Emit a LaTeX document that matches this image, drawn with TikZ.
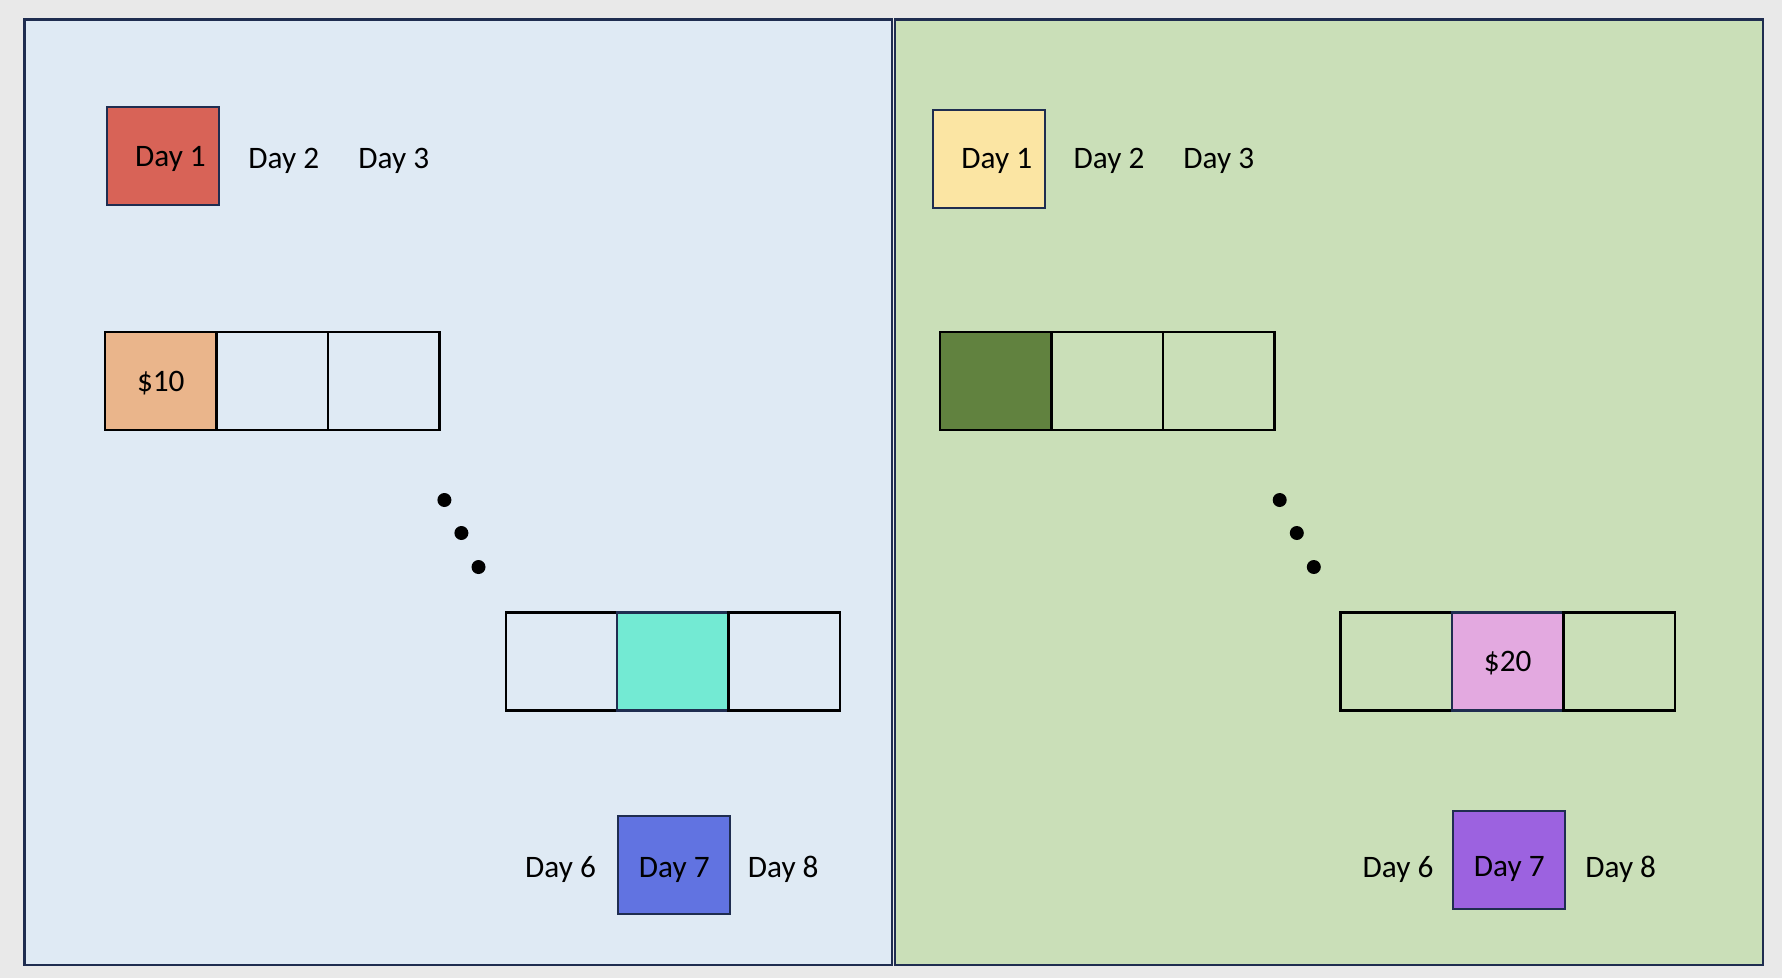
\documentclass[tikz,border=0pt]{standalone}
\usepackage{fontspec}
\setmainfont{Carlito}
\usetikzlibrary{positioning}

\definecolor{pagegray}{HTML}{E9E9E9}
\definecolor{navy}{HTML}{1F2D50}
\definecolor{leftbg}{HTML}{DFEAF4}
\definecolor{rightbg}{HTML}{CADFB8}
\definecolor{dayred}{HTML}{D86357}
\definecolor{peach}{HTML}{EAB58B}
\definecolor{teal}{HTML}{73EAD3}
\definecolor{dayblue}{HTML}{6173E1}
\definecolor{dayyellow}{HTML}{FBE5A3}
\definecolor{darkgreen}{HTML}{61823F}
\definecolor{pink}{HTML}{E3A9E0}
\definecolor{daypurple}{HTML}{9C62E0}

\begin{document}
\begin{tikzpicture}[x=0.02cm,y=-0.02cm,
	panel/.style={draw=navy, line width=1.2pt},
	daybox/.style={draw=navy, line width=1.1pt, outer sep=0pt, inner sep=0pt, text depth=0pt,
		minimum width=2.24cm, minimum height=1.96cm, font=\fontsize{17.8}{20}\selectfont},
	cell/.style={draw=black, line width=1.3pt, outer sep=0pt, inner sep=0pt, text depth=0pt,
		minimum width=2.23cm, minimum height=1.96cm, font=\fontsize{17.8}{20}\selectfont},
	daytext/.style={inner sep=0pt, text depth=0pt, font=\fontsize{17.8}{20}\selectfont},
	dot/.style={circle, fill=black, inner sep=0pt, minimum size=0.28cm}]

	\useasboundingbox (0,0) rectangle (1782,978);
	\fill[pagegray] (0,0) rectangle (1782,978);

	% two panels
	\draw[panel, fill=leftbg] (24.5,19.5) rectangle (892,965);
	\draw[panel, fill=rightbg] (895,19.5) rectangle (1763,965);

	% left panel
	\node[daybox, fill=dayred] (Lday1) at (163,156) {\hspace{0.3cm}Day 1};
	\node[daytext] (Lday2) at (283.8,158) {Day 2};
	\node[daytext] (Lday3) at (393.8,158) {Day 3};

	\node[cell, fill=peach] (Lcella) at (160.8,381) {\$10};
	\node[cell, right=0pt of Lcella] (Lcellb) {};
	\node[cell, right=0pt of Lcellb] (Lcellc) {};

	\node[dot] (Ldota) at (444.4,500) {};
	\node[dot] (Ldotb) at (461.4,533) {};
	\node[dot] (Ldotc) at (478.5,567) {};

	\node[cell] (Lcelld) at (561.4,661.5) {};
	\node[cell, fill=teal, draw=navy, right=0pt of Lcelld] (Lcelle) {};
	\node[cell, right=0pt of Lcelle] (Lcellf) {};

	\node[daybox, fill=dayblue, label={[daytext, yshift=-0.05cm]center:Day 7}] (Lday7) at (674.3,864.7) {};
	\node[daytext] (Lday6) at (560.5,867) {Day 6};
	\node[daytext] (Lday8) at (783.2,867) {Day 8};

	% right panel
	\node[daybox, fill=dayyellow] (Rday1) at (989.3,158.8) {\hspace{0.3cm}Day 1};
	\node[daytext] (Rday2) at (1109,158) {Day 2};
	\node[daytext] (Rday3) at (1218.8,158) {Day 3};

	\node[cell, fill=darkgreen] (Rcella) at (995.7,381) {};
	\node[cell, right=0pt of Rcella] (Rcellb) {};
	\node[cell, right=0pt of Rcellb] (Rcellc) {};

	\node[dot] (Rdota) at (1279.7,500) {};
	\node[dot] (Rdotb) at (1296.8,533) {};
	\node[dot] (Rdotc) at (1313.8,567) {};

	\node[cell] (Rcelld) at (1396.2,661.5) {};
	\node[cell, fill=pink, draw=navy, right=0pt of Rcelld] (Rcelle) {\$20};
	\node[cell, right=0pt of Rcelle] (Rcellf) {};

	\node[daybox, fill=daypurple, label={[daytext, yshift=-0.14cm]center:Day 7}] (Rday7) at (1509.3,859.9) {};
	\node[daytext] (Rday6) at (1398,867) {Day 6};
	\node[daytext] (Rday8) at (1620.7,867) {Day 8};

\end{tikzpicture}
\end{document}
